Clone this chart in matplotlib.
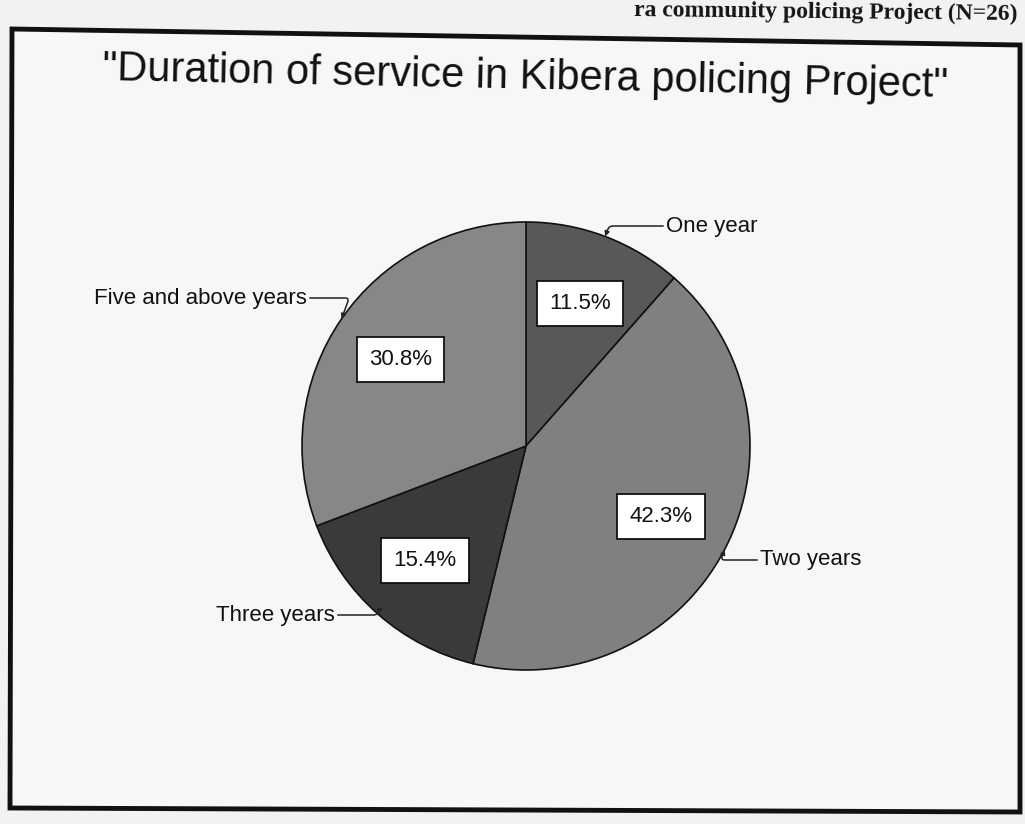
import numpy as np
import matplotlib
matplotlib.use("Agg")
import matplotlib.pyplot as plt
from matplotlib.patches import Polygon

plt.rcParams["font.family"] = ["Liberation Sans", "DejaVu Sans"]

categories = ["One year", "Two years", "Three years", "Five and above years"]
shares = [11.5, 42.3, 15.4, 30.8]
slice_colors = ["#585858", "#808080", "#3a3a3a", "#878787"]

title = '"Duration of service in Kibera policing Project"'
page_caption = "ra community policing Project (N=26)"

W, H = 1025, 824


def py(y):
    # page coordinates are measured from the top
    return H - y


fig = plt.figure(figsize=(W / 100, H / 100), dpi=100, facecolor="#f2f2f2")
ax = fig.add_axes([0, 0, 1, 1])
ax.set_facecolor("#f2f2f2")

# caption line of the page above the chart
ax.text(1018, py(20), page_caption, fontsize=17, fontweight="bold",
        family=["Liberation Serif", "DejaVu Serif"], ha="right", va="baseline",
        rotation=-0.6, color="#151515")

# slightly skewed chart border
frame = Polygon([(12, py(29)), (1020, py(45)), (1020, py(812)), (10, py(808))],
                closed=True, fill=True, facecolor="#f7f7f7", edgecolor="#111111",
                lw=3.5, zorder=0.5)
ax.add_patch(frame)

ax.text(525, py(97), title, fontsize=30, ha="center", va="baseline",
        rotation=-1.15, color="#111111")

cx, cy, R = 526, py(446), 224
wedges, texts, autotexts = ax.pie(
    shares, colors=slice_colors, startangle=90, counterclock=False,
    center=(cx, cy), radius=R, autopct="%1.1f%%", pctdistance=0.68,
    wedgeprops=dict(edgecolor="#111111", linewidth=1.2),
    textprops=dict(fontsize=16, color="#111111"))

for t in autotexts:
    t.set_bbox(dict(boxstyle="square,pad=0.55", facecolor="white",
                    edgecolor="#111111", lw=1.3))

# outside labels with leader lines to the slice edges
label_pos = [(672, py(226), "left"), (766, py(560), "left"),
             (329, py(615), "right"), (301, py(298), "right")]
for w, name, (tx, ty, ha) in zip(wedges, categories, label_pos):
    mid = np.deg2rad((w.theta1 + w.theta2) / 2)
    ex, ey = cx + R * np.cos(mid), cy + R * np.sin(mid)
    lx = tx - 6 if ha == "left" else tx + 6
    ax.annotate(name, xy=(ex, ey), xytext=(lx, ty), fontsize=16,
                ha=ha, va="center", color="#111111",
                arrowprops=dict(arrowstyle="-|>", color="#222222", lw=1.1,
                                mutation_scale=7, shrinkA=0, shrinkB=0,
                                connectionstyle="angle,angleA=0,angleB=70,rad=4"))

ax.set_xlim(0, W)
ax.set_ylim(0, H)
ax.set_aspect("equal")
ax.axis("off")

fig.savefig("out.png", dpi=100, facecolor=fig.get_facecolor())
